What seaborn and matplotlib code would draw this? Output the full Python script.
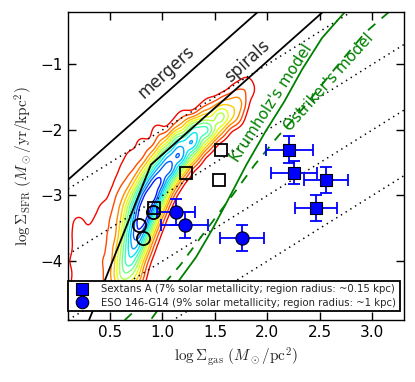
import numpy as np
import pandas as pd
import seaborn as sns
import matplotlib
matplotlib.use('Agg')
import matplotlib.pyplot as plt
from matplotlib.lines import Line2D

# Sextans A regions (filled) and the open-square counterparts
sexa_gas = [2.21, 2.25, 2.56, 2.46]
sexa_sfr = [-2.30, -2.65, -2.76, -3.19]
sexa_gas_err = [0.22, 0.22, 0.21, 0.20]
sexa_sfr_err = [0.20, 0.18, 0.20, 0.20]
sexa_open_gas = [1.56, 1.22, 1.54, 0.92]

# ESO 146-G14 regions (filled) and open circles
eso_gas = [1.13, 1.21, 1.76]
eso_sfr = [-3.25, -3.45, -3.65]
eso_gas_err = [0.18, 0.22, 0.21]
eso_sfr_err = [0.20, 0.20, 0.20]
eso_open_gas = [0.91, 0.78, 0.81]

# reference relations
mergers_gas = [0.10, 1.91]
mergers_sfr = [-2.76, -0.20]
spirals_gas = [0.30, 0.89, 2.53]
spirals_sfr = [-4.90, -2.53, -0.20]
depletion_offsets = [-3, -4, -5, -6]

krum_gas = [0.90, 1.16, 1.32, 1.47, 1.64, 1.80, 1.98, 2.16, 2.33, 2.52, 2.74]
krum_sfr = [-4.87, -4.29, -3.94, -3.53, -3.02, -2.53, -2.03, -1.57, -1.08, -0.60, -0.20]
ost_gas = [0.64, 1.03, 1.17, 1.41, 1.67, 1.88, 2.10, 2.35, 2.61, 2.93, 3.16]
ost_sfr = [-4.90, -4.32, -4.06, -3.54, -2.99, -2.53, -2.10, -1.65, -1.13, -0.52, -0.20]

# spiral-galaxy pixel density
row_sfr = [-4.4, -4.2, -4.0, -3.8, -3.6, -3.4, -3.2, -3.0, -2.8, -2.6, -2.4, -2.2,
           -2.0, -1.8, -1.6, -1.4, -1.25]
row_gas = [[0.15, 0.30, 0.45, 0.60, 0.72],
           [0.20, 0.35, 0.50, 0.63, 0.74],
           [0.15, 0.30, 0.45, 0.60, 0.69, 0.79],
           [0.20, 0.35, 0.50, 0.63, 0.73, 0.83],
           [0.20, 0.35, 0.50, 0.66, 0.76, 0.87],
           [0.20, 0.40, 0.55, 0.69, 0.80, 0.91],
           [0.45, 0.60, 0.73, 0.84, 0.95],
           [0.55, 0.68, 0.80, 0.90, 1.00],
           [0.60, 0.75, 0.87, 0.97, 1.08],
           [0.65, 0.82, 0.95, 1.06, 1.17],
           [0.70, 0.90, 1.04, 1.16, 1.28],
           [0.80, 1.00, 1.15, 1.28, 1.40],
           [0.95, 1.15, 1.30, 1.42, 1.54],
           [1.20, 1.40, 1.55, 1.68],
           [1.45, 1.60, 1.72],
           [1.70, 1.82],
           [1.80]]
row_wt = [[0.30, 0.35, 0.5, 1.5, 0.8],
          [0.35, 0.40, 0.6, 3.0, 1.5],
          [0.30, 0.40, 0.5, 1.5, 4.5, 0.8],
          [0.35, 0.40, 0.5, 2.0, 6.0, 1.0],
          [0.40, 0.40, 0.5, 2.5, 8.0, 1.2],
          [0.35, 0.40, 0.6, 3.0, 10.0, 1.5],
          [0.40, 0.70, 4.0, 11.0, 2.0],
          [0.40, 0.90, 5.0, 10.0, 2.0],
          [0.40, 0.90, 5.0, 9.0, 1.5],
          [0.40, 0.90, 5.0, 8.5, 1.5],
          [0.35, 0.80, 5.0, 8.0, 1.5],
          [0.35, 0.80, 5.0, 7.0, 1.2],
          [0.35, 0.80, 4.5, 5.0, 1.0],
          [0.40, 1.20, 3.5, 1.2],
          [0.35, 1.00, 1.2],
          [0.40, 0.40],
          [0.25]]

sns.set_style('ticks')
plt.rcParams['font.family'] = ['DejaVu Sans']
plt.rcParams['mathtext.fontset'] = 'cm'
plt.rcParams['lines.scale_dashes'] = False

fig, ax = plt.subplots(figsize=(4.15, 3.82), dpi=100)
fig.subplots_adjust(left=0.164, right=0.973, top=0.969, bottom=0.162)

df = pd.DataFrame({
    'gas': [g for row in row_gas for g in row],
    'sfr': [s for s, row in zip(row_sfr, row_gas) for _ in row],
    'w': [w for row in row_wt for w in row],
})

# smooth the pixel density with a small round kernel and contour it
gx, gy = np.meshgrid(np.linspace(0.1, 3.3, 320), np.linspace(-4.9, -0.2, 320))
dens = np.zeros_like(gx)
for g, s, w in df.itertuples(index=False):
    dens += w * np.exp(-0.5 * (((gx - g) / 0.06) ** 2 + ((gy - s) / 0.11) ** 2))
fracs = np.array([0.02, 0.045, 0.08, 0.12, 0.17, 0.23, 0.30, 0.38, 0.47, 0.57, 0.68, 0.80])
ax.contour(gx, gy, dens, levels=fracs * dens.max(),
           colors=plt.cm.jet(np.linspace(0.9, 0.15, len(fracs))), linewidths=1.0)

xs = np.array([0.1, 3.3])
for off in depletion_offsets:
    ax.plot(xs, xs + off, color='k', ls=':', lw=1.1, dashes=(1, 3))

ax.plot(mergers_gas, mergers_sfr, color='k', lw=1.3)
ax.plot(spirals_gas, spirals_sfr, color='k', lw=1.3)
ax.plot(krum_gas, krum_sfr, color='g', lw=1.3)
ax.plot(ost_gas, ost_sfr, color='g', lw=1.3, dashes=(7, 6))

ax.errorbar(sexa_gas, sexa_sfr, xerr=sexa_gas_err, yerr=sexa_sfr_err, fmt='none',
            ecolor='b', elinewidth=1.3, capsize=4, capthick=1.3)
ax.errorbar(eso_gas, eso_sfr, xerr=eso_gas_err, yerr=eso_sfr_err, fmt='none',
            ecolor='b', elinewidth=1.3, capsize=4, capthick=1.3)
sns.scatterplot(x=sexa_gas, y=sexa_sfr, marker='s', s=75, color='b',
                edgecolor='k', linewidth=0.8, ax=ax, zorder=5)
sns.scatterplot(x=eso_gas, y=eso_sfr, marker='o', s=90, color='b',
                edgecolor='k', linewidth=0.8, ax=ax, zorder=5)
ax.plot(sexa_open_gas, sexa_sfr, ls='none', marker='s', ms=9, mfc='none',
        mec='k', mew=1.3, zorder=5)
ax.plot(eso_open_gas, eso_sfr, ls='none', marker='o', ms=9.5, mfc='none',
        mec='k', mew=1.3, zorder=5)

ax.text(1.04, -1.12, 'mergers', rotation=42, fontsize=12, ha='center', va='center')
ax.text(1.81, -0.95, 'spirals', rotation=42, fontsize=12, ha='center', va='center')
ax.text(2.04, -1.59, "Krumholz's model", rotation=57, fontsize=11, color='g',
        ha='center', va='center')
ax.text(2.58, -1.27, "Ostriker's model", rotation=48, fontsize=11, color='g',
        ha='center', va='center')

ax.set_xlim(0.1, 3.3)
ax.set_ylim(-4.9, -0.2)
ax.set_xticks([0.5, 1.0, 1.5, 2.0, 2.5, 3.0])
ax.set_yticks([-4, -3, -2, -1])
ax.tick_params(direction='in', top=True, right=True, length=6, width=1,
               labelsize=11, colors='k')
for sp in ax.spines.values():
    sp.set_color('k')
    sp.set_linewidth(1)
ax.set_xlabel(r'$\log\Sigma_{\rm gas}\ (M_\odot/{\rm pc}^2)$', fontsize=11)
ax.set_ylabel(r'$\log\Sigma_{\rm SFR}\ (M_\odot/{\rm yr/kpc}^2)$', fontsize=11)

handles = [Line2D([], [], marker='s', ls='none', color='b', mec='k', mew=0.8, ms=8),
           Line2D([], [], marker='o', ls='none', color='b', mec='k', mew=0.8, ms=9)]
labels = ['Sextans A (7% solar metallicity; region radius: ~0.15 kpc)',
          'ESO 146-G14 (9% solar metallicity; region radius: ~1 kpc)']
leg = ax.legend(handles, labels, loc='lower left', bbox_to_anchor=(0.0, 0.028),
                borderaxespad=0, fontsize=7.3, fancybox=False, framealpha=1,
                edgecolor='k', handletextpad=0.9, labelspacing=0.35, borderpad=0.35)
leg.get_frame().set_linewidth(1.3)
leg.set_zorder(10)

fig.savefig('out.png', dpi=100)
